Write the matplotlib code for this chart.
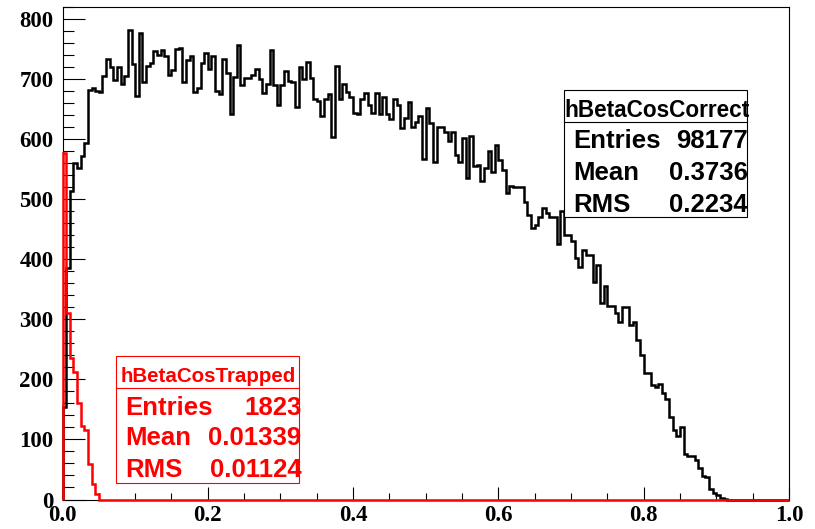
import matplotlib
matplotlib.use("Agg")
import matplotlib.pyplot as plt
import numpy as np
from matplotlib.patches import Rectangle
from matplotlib.lines import Line2D

# 200 bins over [0, 1]
edges = np.linspace(0.0, 1.0, 201)

correct_counts = [
    154, 386, 514, 560, 553, 573, 594, 683, 686, 681,
    679, 706, 734, 720, 699, 720, 693, 706, 783, 725,
    673, 777, 696, 723, 728, 747, 740, 749, 739, 708,
    716, 751, 753, 696, 732, 739, 679, 686, 728, 744,
    718, 739, 681, 676, 734, 710, 643, 704, 757, 690,
    703, 703, 708, 717, 700, 678, 693, 749, 690, 657,
    690, 714, 698, 696, 654, 721, 700, 729, 702, 667,
    664, 639, 668, 675, 604, 723, 667, 692, 679, 671,
    644, 642, 668, 677, 658, 644, 677, 642, 671, 643,
    634, 668, 658, 619, 636, 663, 621, 629, 639, 567,
    653, 627, 563, 621, 621, 613, 598, 613, 574, 563,
    603, 535, 606, 555, 557, 530, 553, 580, 546, 591,
    566, 549, 510, 522, 521, 521, 521, 496, 474, 452,
    457, 471, 485, 478, 471, 471, 425, 480, 441, 441,
    430, 402, 388, 416, 407, 407, 363, 391, 327, 356,
    322, 322, 310, 295, 321, 321, 291, 296, 266, 241,
    210, 210, 191, 187, 193, 178, 168, 137, 116, 105,
    120, 76, 72, 72, 66, 52, 39, 37, 17, 11,
    7, 3, 1, 0, 0, 0, 0, 0, 0, 0,
    0, 0, 0, 0, 0, 0, 0, 0, 0, 0,
]

trapped_counts = [577, 311, 235, 213, 161, 122, 115, 59, 26, 9] + [0] * 190

correct_stats = [("Entries", "98177"), ("Mean", "0.3736"), ("RMS", "0.2234")]
trapped_stats = [("Entries", "1823"), ("Mean", "0.01339"), ("RMS", "0.01124")]

W, H = 815, 529
fig = plt.figure(figsize=(W / 100, H / 100), dpi=100)
ax = fig.add_axes([62.5 / W, (H - 499.5) / H, (789 - 62.5) / W, (499.5 - 6.7) / H])

ax.stairs(correct_counts, edges, color="black", linewidth=1.8, zorder=3, clip_on=False)
ax.stairs(trapped_counts, edges, color="#ff0000", linewidth=1.8, zorder=4, clip_on=False)

ax.set_xlim(0, 1)
ax.set_ylim(0, 821.3)
ax.set_xticks(np.arange(0, 1.01, 0.2))
ax.set_xticks(np.arange(0, 1.01, 0.05), minor=True)
ax.set_yticks(np.arange(0, 801, 100))
ax.set_yticks(np.arange(0, 821, 20), minor=True)
ax.set_xticklabels(["%.1f" % v for v in np.arange(0, 1.01, 0.2)])

tick_font = dict(family="Liberation Serif", weight="bold", size=16.5)
for lab in ax.get_xticklabels() + ax.get_yticklabels():
    lab.set_fontproperties(matplotlib.font_manager.FontProperties(**tick_font))

ax.tick_params(axis="y", which="major", direction="in", length=15.8, width=0.8, pad=6.5)
ax.tick_params(axis="y", which="minor", direction="in", length=7.9, width=0.8)
ax.tick_params(axis="x", which="major", direction="in", length=9.4, width=0.8, pad=4)
ax.tick_params(axis="x", which="minor", direction="in", length=5.0, width=0.8)
for s in ax.spines.values():
    s.set_linewidth(0.8)


def px(x, y):
    # pixel position (from top-left) to figure fraction
    return x / W, 1 - y / H


def stat_box(x0, x1, y0, ysep, y1, name, stats, color, baselines, xtext, xnum, head_size):
    fx0, fy1 = px(x0, y1)
    fx1, fy0 = px(x1, y0)
    fig.patches.append(Rectangle((fx0, fy1), fx1 - fx0, fy0 - fy1, transform=fig.transFigure,
                                 facecolor="white", edgecolor=color, linewidth=0.8, zorder=5))
    _, fs = px(0, ysep)
    fig.lines.append(Line2D([fx0, fx1], [fs, fs], transform=fig.transFigure,
                            color=color, linewidth=0.8, zorder=6))
    hx, hy = px((x0 + x1) / 2 + 1, baselines[0])
    fig.text(hx, hy, name, ha="center", va="baseline", color=color, zorder=7,
             family="Liberation Sans", weight="bold", size=head_size)
    for (label, value), b in zip(stats, baselines[1:]):
        lx, ly = px(xtext, b)
        fig.text(lx, ly, label, ha="left", va="baseline", color=color, zorder=7,
                 family="Liberation Sans", weight="bold", size=18.5)
        nx, _ = px(xnum, b)
        fig.text(nx, ly, value, ha="right", va="baseline", color=color, zorder=7,
                 family="Liberation Sans", weight="bold", size=18.5)


stat_box(564, 747, 90, 121.7, 216.7, "hBetaCosCorrect", correct_stats, "black",
         [116.7, 148.3, 180, 211.7], 573, 747.5, 16.3)
stat_box(116, 299, 356, 388.3, 483.3, "hBetaCosTrapped", trapped_stats, "#ff0000",
         [382, 415, 445, 476.7], 125.5, 301.5, 14.8)

fig.savefig("out.png", dpi=100)
